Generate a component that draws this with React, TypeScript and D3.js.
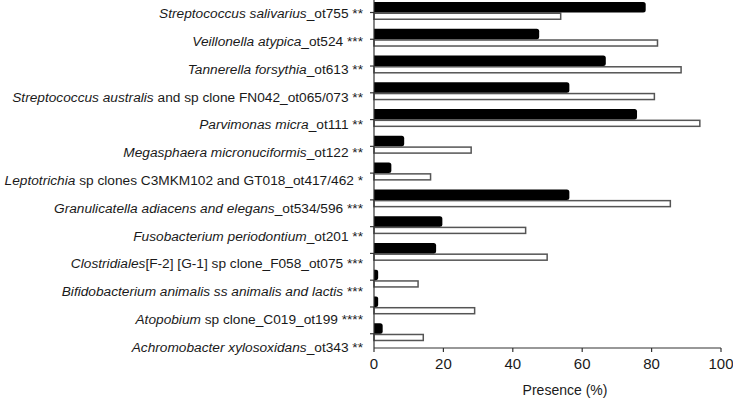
import React, { useEffect } from "react";
import * as d3 from "d3";

const categories = [
  "salivarius", "veillonella", "tannerella", "australis", "parvimonas", "megasphaera",
  "leptotrichia", "granulicatella", "fusobacterium", "clostridiales", "bifidobacterium",
  "atopobium", "achromobacter",
];
const labelItalic = [
  "Streptococcus salivarius", "Veillonella atypica", "Tannerella forsythia",
  "Streptococcus australis", "Parvimonas micra", "Megasphaera micronuciformis",
  "Leptotrichia", "Granulicatella adiacens and elegans", "Fusobacterium periodontium",
  "Clostridiales", "Bifidobacterium animalis ss animalis and lactis", "Atopobium",
  "Achromobacter xylosoxidans",
];
const labelPlain = [
  "_ot755 **", "_ot524 ***", "_ot613 **", " and sp clone FN042_ot065/073 **", "_ot111 **",
  "_ot122 **", " sp clones C3MKM102 and GT018_ot417/462 *", "_ot534/596 ***", "_ot201 **",
  "[F-2] [G-1] sp clone_F058_ot075 ***", " ***", " sp clone_C019_ot199 ****", "_ot343 **",
];
const blackValues = [78.3, 47.6, 66.8, 56.3, 75.8, 8.7, 5.0, 56.3, 19.7, 17.9, 1.2, 1.2, 2.5];
const whiteValues = [53.8, 81.7, 88.5, 80.8, 93.9, 28.0, 16.3, 85.4, 43.7, 49.9, 12.7, 29.0, 14.2];
const xTicks = [0, 20, 40, 60, 80, 100];
const xTitle = "Presence (%)";

export default function App() {
  useEffect(() => {
    document.body.style.margin = "0";
  }, []);
  const W = 733, H = 401;
  const x = d3.scaleLinear().domain([0, 100]).range([374, 721]);
  const y = d3.scaleBand<string>().domain(categories).range([0, 348]);
  const yLabel = d3.scalePoint<string>().domain(categories).range([13.5, 347]);
  const font = "'Liberation Sans', Arial, Helvetica, sans-serif";
  const axisY = 348;

  return (
    <svg width={W} height={H} style={{ display: "block" }} fontFamily={font}>
      <rect width={W} height={H} fill="#fff" />
      {categories.map((c, i) => {
        const y0 = y(c)!;
        const bTop = y0 + 2;
        const bH = 10.5;
        const wTop = bTop + bH;
        const wH = 7.5;
        const bw = x(blackValues[i]) - x(0);
        const r = Math.min(2.5, bw / 2);
        const bx = x(0);
        const path = `M${bx},${bTop} H${bx + bw - r} Q${bx + bw},${bTop} ${bx + bw},${bTop + r} V${bTop + bH - r} Q${bx + bw},${bTop + bH} ${bx + bw - r},${bTop + bH} H${bx} Z`;
        return (
          <g key={c}>
            <rect x={x(0)} y={wTop + 0.75} width={x(whiteValues[i]) - x(0)} height={wH - 1.5}
              fill="#fff" stroke="#555" strokeWidth={1.5} />
            <path d={path} fill="#000" />
            <line x1={370} x2={374} y1={bTop + bH} y2={bTop + bH} stroke="#333" strokeWidth={1.2} />
          </g>
        );
      })}
      {categories.map((c, i) => (
        <text key={"l" + c} x={363} y={yLabel(c)!} dy="0.35em" textAnchor="end" fontSize={13.7} fill="#1a1a1a">
          <tspan fontStyle="italic">{labelItalic[i]}</tspan>
          <tspan>{labelPlain[i]}</tspan>
        </text>
      ))}
      <line x1={374} x2={374} y1={0} y2={axisY} stroke="#333" strokeWidth={1.2} />
      <line x1={374} x2={721} y1={axisY} y2={axisY} stroke="#333" strokeWidth={1.2} />
      {xTicks.map((t) => (
        <g key={"t" + t}>
          <line x1={x(t)} x2={x(t)} y1={axisY} y2={axisY + 4} stroke="#333" strokeWidth={1.2} />
          <text x={x(t)} y={369} textAnchor="middle" fontSize={15} fill="#1a1a1a">{t}</text>
        </g>
      ))}
      <text x={565} y={395} textAnchor="middle" fontSize={14} fill="#1a1a1a">{xTitle}</text>
    </svg>
  );
}
